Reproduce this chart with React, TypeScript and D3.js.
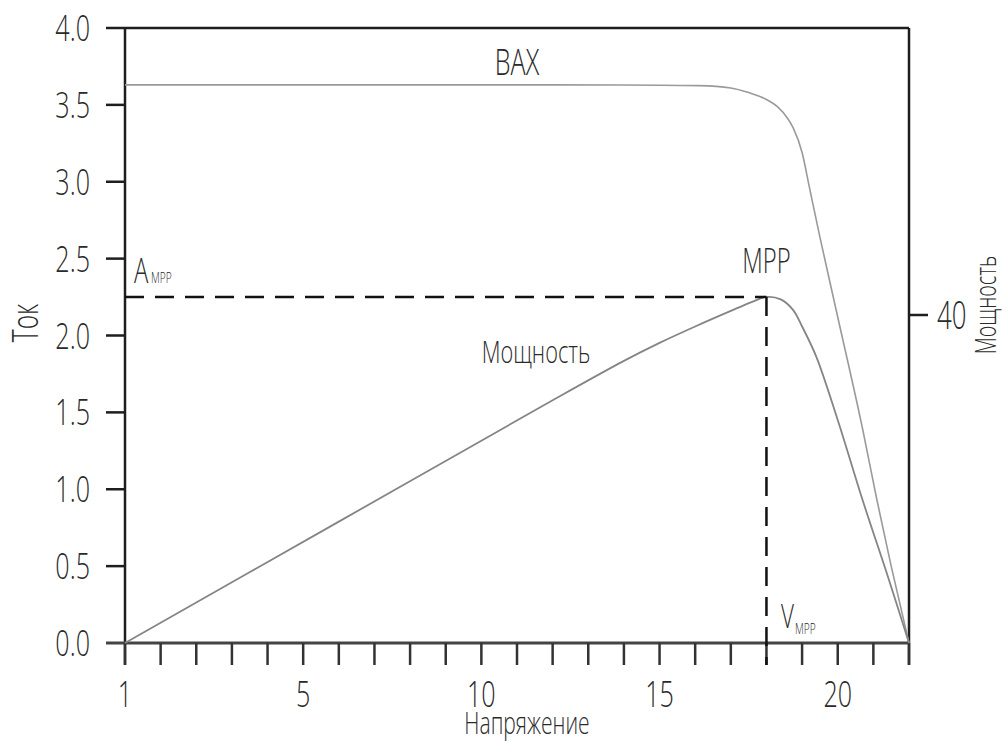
import React from "react";
import * as d3 from "d3";

// Current–voltage characteristic (voltage, current A)
const ivVoltage = [0, 4, 8, 12, 15, 16.1, 17, 17.5, 18, 18.3, 18.6, 18.75, 19.0, 19.2, 19.5, 20.0, 20.7, 21.1, 21.5, 22];
const ivCurrent = [3.63, 3.63, 3.63, 3.63, 3.628, 3.625, 3.61, 3.58, 3.535, 3.49, 3.41, 3.35, 3.19, 2.97, 2.64, 2.12, 1.39, 0.93, 0.5, 0];

// Power curve (voltage, power W)
const powerVoltage = [0, 6, 12, 14, 15, 16, 17, 17.6, 18, 18.4, 18.75, 19.0, 19.4, 20.0, 20.7, 21.4, 22];
const powerWatts = [0, 14.8, 29.6, 34.4, 36.6, 38.6, 40.5, 41.6, 42.2, 41.9, 40.6, 38.6, 34.9, 27.2, 17.4, 8.2, 0];

// Maximum power point
const mppVoltage = 18;
const mppPower = 42.2;

// Axes
const currentTicks = [0, 0.5, 1.0, 1.5, 2.0, 2.5, 3.0, 3.5, 4.0];
const voltageTickValues = [0, 5, 10, 15, 20];
const voltageTickLabels = ["1", "5", "10", "15", "20"];
const powerTicks = [40];

const W = 1006;
const H = 742;
const FONT = "'Open Sans', 'DejaVu Sans', sans-serif";
const SX = 0.68;

function NText(props: {
  x: number;
  y: number;
  size: number;
  anchor?: "start" | "middle" | "end";
  rotate?: number;
  fill?: string;
  children: React.ReactNode;
}) {
  const { x, y, size, anchor = "start", rotate = 0, fill = "#2a2a2a", children } = props;
  return (
    <text
      transform={`translate(${x},${y}) rotate(${rotate}) scale(${SX},1)`}
      fontFamily={FONT}
      fontWeight={300}
      fontSize={size}
      textAnchor={anchor}
      fill={fill}
    >
      {children}
    </text>
  );
}

export default function App() {
  const left = 125;
  const right = 909;
  const top = 28;
  const bottom = 643;

  const x = d3.scaleLinear().domain([0, 22]).range([left, right]);
  const yCur = d3.scaleLinear().domain([0, 4]).range([bottom, top]);
  const yPow = d3.scaleLinear().domain([0, 75]).range([bottom, top]);

  const ivLine = d3
    .line<number>()
    .x((_, i) => x(ivVoltage[i]))
    .y((d) => yCur(d))
    .curve(d3.curveMonotoneX);

  const powLine = d3
    .line<number>()
    .x((_, i) => x(powerVoltage[i]))
    .y((d) => yPow(d))
    .curve(d3.curveCatmullRom.alpha(0.5));

  const minorTicks = d3.range(0, 23, 1);
  const axisColor = "#1e1e1e";
  const tickLen = 22;
  const mppX = x(mppVoltage);
  const mppY = yPow(mppPower);

  return (
    <svg
      width={W}
      height={H}
      viewBox={`0 0 ${W} ${H}`}
      style={{ position: "absolute", left: 0, top: 0, background: "#fff" }}
    >
      <rect x={0} y={0} width={W} height={H} fill="#fff" />

      {/* frame */}
      <line x1={left - 19} x2={right} y1={top} y2={top} stroke={axisColor} strokeWidth={2.5} />
      <line x1={left} x2={left} y1={top} y2={bottom + tickLen} stroke={axisColor} strokeWidth={2.5} />
      <line x1={right} x2={right} y1={top} y2={bottom + tickLen} stroke={axisColor} strokeWidth={2.5} />
      <line x1={left - 19} x2={right} y1={bottom} y2={bottom} stroke="#444" strokeWidth={3} />

      {/* current axis */}
      {currentTicks.map((t) => (
        <g key={`yc${t}`}>
          {t > 0 && t < 4 && (
            <line x1={left - 19} x2={left} y1={yCur(t)} y2={yCur(t)} stroke={axisColor} strokeWidth={2.5} />
          )}
          <NText x={90} y={yCur(t) + 13} size={37} anchor="end">
            {d3.format(".1f")(t)}
          </NText>
        </g>
      ))}

      {/* voltage axis */}
      {minorTicks.map((t) => (
        <line
          key={`xt${t}`}
          x1={x(t)}
          x2={x(t)}
          y1={bottom}
          y2={bottom + tickLen}
          stroke="#333"
          strokeWidth={2.5}
        />
      ))}
      {voltageTickValues.map((t, i) => (
        <NText key={`xl${t}`} x={x(t)} y={707} size={37} anchor="middle">
          {voltageTickLabels[i]}
        </NText>
      ))}

      {/* power axis */}
      {powerTicks.map((t) => (
        <g key={`yp${t}`}>
          <line x1={right} x2={right + 19} y1={yPow(t)} y2={yPow(t)} stroke={axisColor} strokeWidth={2.5} />
          <NText x={937} y={yPow(t) + 14} size={38}>
            {t}
          </NText>
        </g>
      ))}

      {/* curves */}
      <path d={ivLine(ivCurrent) ?? ""} fill="none" stroke="#9a9a9a" strokeWidth={1.6} />
      <path d={powLine(powerWatts) ?? ""} fill="none" stroke="#858585" strokeWidth={1.8} />

      {/* MPP guides */}
      <line
        x1={left}
        x2={mppX}
        y1={mppY}
        y2={mppY}
        stroke="#111"
        strokeWidth={2.5}
        strokeDasharray="19 11"
      />
      <line
        x1={mppX}
        x2={mppX}
        y1={mppY}
        y2={bottom + tickLen}
        stroke="#111"
        strokeWidth={2.5}
        strokeDasharray="19 11"
      />

      {/* labels */}
      <NText x={517} y={75} size={37} anchor="middle">ВАХ</NText>
      <NText x={mppX} y={273} size={35} anchor="middle">MPP</NText>
      <NText x={536} y={363} size={32} anchor="middle">Мощность</NText>
      <NText x={134} y={283} size={35}>A</NText>
      <NText x={151} y={283} size={15}>MPP</NText>
      <NText x={781} y={628} size={33}>V</NText>
      <NText x={795} y={634} size={15}>MPP</NText>

      <NText x={527} y={734} size={31} anchor="middle">Напряжение</NText>
      <NText x={38} y={323} size={36} anchor="middle" rotate={-90}>Ток</NText>
      <NText x={996} y={305} size={29} anchor="middle" rotate={-90}>Мощность</NText>
    </svg>
  );
}
